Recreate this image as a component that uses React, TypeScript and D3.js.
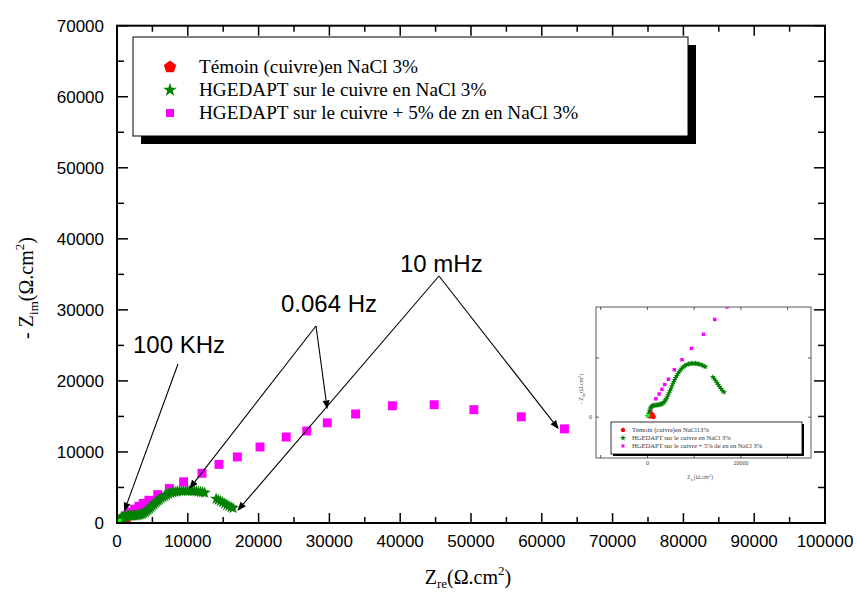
import React from 'react';
import * as d3 from 'd3';

type P = [number, number];

// Series (Zre, -Zim) in ohm.cm2
const temoin: P[] = [[600, 60], [800, 150], [1000, 250], [1150, 120], [1300, 20]];
const hgedapt: P[] = [
  [100, 100], [250, 300], [400, 500], [550, 650], [700, 780], [850, 870], [1000, 930], [1200, 970],
  [1400, 990], [1600, 1000], [1800, 1010], [2000, 1020], [2200, 1030], [2400, 1040], [2600, 1060],
  [2800, 1080], [3000, 1110], [3200, 1150], [3400, 1210], [3600, 1290], [3800, 1400], [4000, 1530],
  [4200, 1680], [4400, 1850], [4600, 2030], [4800, 2220], [5000, 2410], [5200, 2600], [5400, 2790],
  [5600, 2970], [5800, 3140], [6000, 3300], [6250, 3480], [6500, 3650], [6750, 3800], [7000, 3940],
  [7300, 4080], [7600, 4200], [7900, 4300], [8200, 4380], [8500, 4440], [8800, 4480], [9100, 4510],
  [9400, 4530], [9700, 4540], [10000, 4540], [10300, 4530], [10600, 4510], [10900, 4490], [11200, 4460],
  [11500, 4420], [11800, 4370], [12100, 4310], [12400, 4250],
  [14000, 3400], [14300, 3250], [14600, 3080], [14900, 2900], [15200, 2720], [15500, 2540],
  [15800, 2370], [16100, 2220], [16400, 2100],
];
const hgedaptZn: P[] = [
  [700, 500], [1200, 1000], [1800, 1550], [2500, 1950], [3100, 2350], [3700, 2750], [4500, 3200],
  [5750, 4000], [7400, 4850], [9400, 5800], [12000, 7000], [14400, 8250], [17000, 9300], [20200, 10700],
  [23900, 12100], [26800, 12950], [29700, 14100], [33700, 15350], [38900, 16500], [44800, 16650],
  [50400, 15950], [57100, 14950], [63200, 13250],
];
const limeMain: P[] = [[200, 150]];
const limeInset: P[] = [[200, 150], [16900, 9400]];

const xTickLabels = [0, 10000, 20000, 30000, 40000, 50000, 60000, 70000, 80000, 90000, 100000];
const yTickLabels = [0, 10000, 20000, 30000, 40000, 50000, 60000, 70000];
const insetXTicks = [-10000, 0, 10000, 20000, 30000];
const insetXLabels = [0, 20000];
const insetYTicks = [0, 5000];
const insetYLabels = [0];

const legendLabels = [
  'Témoin (cuivre)en NaCl 3%',
  'HGEDAPT sur le cuivre en NaCl 3%',
  'HGEDAPT sur le cuivre + 5% de zn en NaCl 3%',
];
const insetLegendLabels = [
  'Témoin (cuivre)en NaCl13%',
  'HGEDAPT sur le cuivre en NaCl 3%',
  'HGEDAPT sur le cuivre + 5% de zn en NaCl 3%',
];
const annotationLabels = ['100 KHz', '0.064 Hz', '10 mHz'];

const RED = '#ff0000';
const GREEN = '#008000';
const MAGENTA = '#ff00ff';
const LIME = '#00ff00';
const SANS = 'Liberation Sans, Arial, sans-serif';
const SERIF = 'Liberation Serif, Times New Roman, serif';

function pentagon(r: number): string {
  const pts = d3.range(5).map((i) => {
    const a = -Math.PI / 2 + (i * 2 * Math.PI) / 5;
    return [r * Math.cos(a), r * Math.sin(a)];
  });
  return 'M' + pts.map((p) => p.join(',')).join('L') + 'Z';
}

const starPath = (size: number) => d3.symbol(d3.symbolStar, size)() as string;
const squarePath = (size: number) => d3.symbol(d3.symbolSquare, size)() as string;

function Arrow({ x1, y1, x2, y2 }: { x1: number; y1: number; x2: number; y2: number }) {
  const ang = Math.atan2(y2 - y1, x2 - x1);
  const L = 9, W = 3.5;
  const bx = x2 - L * Math.cos(ang), by = y2 - L * Math.sin(ang);
  const px = -Math.sin(ang) * W, py = Math.cos(ang) * W;
  return (
    <g>
      <line x1={x1} y1={y1} x2={bx} y2={by} stroke="#000" strokeWidth={1.1} />
      <path d={`M${x2},${y2}L${bx + px},${by + py}L${bx - px},${by - py}Z`} fill="#000" />
    </g>
  );
}

export default function App() {
  const x = d3.scaleLinear().domain([0, 100000]).range([117, 825]);
  const y = d3.scaleLinear().domain([0, 70000]).range([523, 25.7]);
  const minorX = d3.range(0, 100001, 5000);
  const minorY = d3.range(0, 70001, 5000);

  const ix = d3.scaleLinear().domain([-11000, 35000]).range([596, 811]);
  const iy = d3.scaleLinear().domain([-3450, 9300]).range([458, 307]);

  const [L, R] = x.range();
  const [B, T] = y.range();

  const star = starPath(46);
  const sq = squarePath(80);
  const pent = pentagon(5);
  const iStar = starPath(11);
  const iSq = squarePath(12);
  const iPent = pentagon(2.6);

  return (
    <svg width={858} height={595} style={{ position: 'absolute', left: 0, top: 0, background: '#fff' }}>
      <rect x={0} y={0} width={858} height={595} fill="#fff" />
      <defs>
        <clipPath id="mainClip">
          <rect x={L} y={T} width={R - L} height={B - T} />
        </clipPath>
        <clipPath id="insetClip">
          <rect x={596} y={307} width={215} height={151} />
        </clipPath>
      </defs>

      {/* Legend (main) */}
      <rect x={141} y={45} width={555} height={99} fill="#000" />
      <rect x={133} y={37} width={555} height={99} fill="#fff" stroke="#000" strokeWidth={1} />
      <path d={pentagon(6.5)} transform="translate(170,67)" fill={RED} />
      <path d={starPath(60)} transform="translate(170,90)" fill={GREEN} />
      <path d={squarePath(64)} transform="translate(170,113)" fill={MAGENTA} />
      {legendLabels.map((t, i) => (
        <text key={t} x={199} y={73 + i * 23} fontFamily={SERIF} fontSize={19.2} fill="#000">{t}</text>
      ))}

      {/* Data main */}
      <g clipPath="url(#mainClip)">
        {hgedaptZn.map((d, i) => (
          <path key={'m' + i} d={sq} transform={`translate(${x(d[0])},${y(d[1])})`} fill={MAGENTA} />
        ))}
        {temoin.map((d, i) => (
          <path key={'r' + i} d={pent} transform={`translate(${x(d[0])},${y(d[1])})`} fill={RED} />
        ))}
        {hgedapt.map((d, i) => (
          <path key={'g' + i} d={star} transform={`translate(${x(d[0])},${y(d[1])})`} fill={GREEN} />
        ))}
        {limeMain.map((d, i) => (
          <path key={'l' + i} d={squarePath(40)} transform={`translate(${x(d[0])},${y(d[1])})`} fill={LIME} />
        ))}
      </g>

      {/* Inset */}
      <g>
        <rect x={596} y={307} width={215} height={151} fill="#fff" stroke="#333" strokeWidth={0.8} />
        {insetXTicks.map((v) => (
          <g key={'ixt' + v}>
            <line x1={ix(v)} x2={ix(v)} y1={458} y2={455} stroke="#333" strokeWidth={0.8} />
            <line x1={ix(v)} x2={ix(v)} y1={307} y2={310} stroke="#333" strokeWidth={0.8} />
          </g>
        ))}
        {insetYTicks.map((v) => (
          <g key={'iyt' + v}>
            <line x1={596} x2={599} y1={iy(v)} y2={iy(v)} stroke="#333" strokeWidth={0.8} />
            <line x1={811} x2={808} y1={iy(v)} y2={iy(v)} stroke="#333" strokeWidth={0.8} />
          </g>
        ))}
        {insetXLabels.map((v) => (
          <text key={'ixl' + v} x={ix(v)} y={465} textAnchor="middle" fontFamily={SERIF} fontSize={6} fill="#444">{v}</text>
        ))}
        {insetYLabels.map((v) => (
          <text key={'iyl' + v} x={592} y={iy(v) + 2} textAnchor="end" fontFamily={SERIF} fontSize={6} fill="#444">{v}</text>
        ))}
        <text transform="translate(583,389) rotate(-90)" textAnchor="middle" fontFamily={SERIF} fontSize={6} fill="#555">
          - Z<tspan fontSize={4} dy={1.5}>im</tspan><tspan dy={-1.5}>(Ω.cm</tspan><tspan fontSize={4} dy={-2}>2</tspan><tspan dy={2}>)</tspan>
        </text>
        <text x={700} y={479} textAnchor="middle" fontFamily={SERIF} fontSize={6} fill="#555">
          Z<tspan fontSize={4} dy={1.5}>re</tspan><tspan dy={-1.5}>(Ω.cm</tspan><tspan fontSize={4} dy={-2}>2</tspan><tspan dy={2}>)</tspan>
        </text>
        <g clipPath="url(#insetClip)">
          {hgedaptZn.map((d, i) => (
            <path key={'im' + i} d={iSq} transform={`translate(${ix(d[0])},${iy(d[1])})`} fill={MAGENTA} />
          ))}
          {hgedapt.map((d, i) => (
            <path key={'ig' + i} d={iStar} transform={`translate(${ix(d[0])},${iy(d[1])})`} fill={GREEN} />
          ))}
          {temoin.map((d, i) => (
            <path key={'ir' + i} d={iPent} transform={`translate(${ix(d[0])},${iy(d[1])})`} fill={RED} />
          ))}
          {limeInset.map((d, i) => (
            <path key={'il' + i} d={iSq} transform={`translate(${ix(d[0])},${iy(d[1])})`} fill={LIME} />
          ))}
        </g>
        {/* inset legend */}
        <rect x={613} y={424} width={191} height={32} fill="#000" />
        <rect x={611} y={422} width={191} height={32} fill="#fff" stroke="#000" strokeWidth={0.8} />
        <path d={pentagon(2.5)} transform="translate(623,430)" fill={RED} />
        <path d={starPath(12)} transform="translate(623,438)" fill={GREEN} />
        <path d={squarePath(9)} transform="translate(623,446)" fill={MAGENTA} />
        {insetLegendLabels.map((t, i) => (
          <text key={'il' + i} x={632} y={432 + i * 8} fontFamily={SERIF} fontSize={6.6} fill="#333">{t}</text>
        ))}
      </g>

      {/* Axes frame and ticks */}
      <rect x={L} y={T} width={R - L} height={B - T} fill="none" stroke="#000" strokeWidth={2} />
      {minorX.map((v) => {
        const len = v % 10000 === 0 ? 10 : 6;
        return (
          <g key={'xt' + v}>
            <line x1={x(v)} x2={x(v)} y1={B} y2={B - len} stroke="#000" strokeWidth={1.5} />
            <line x1={x(v)} x2={x(v)} y1={T} y2={T + len} stroke="#000" strokeWidth={1.5} />
          </g>
        );
      })}
      {minorY.map((v) => {
        const len = v % 10000 === 0 ? 11 : 7;
        return (
          <g key={'yt' + v}>
            <line x1={L} x2={L + len} y1={y(v)} y2={y(v)} stroke="#000" strokeWidth={1.5} />
            <line x1={R} x2={R - len} y1={y(v)} y2={y(v)} stroke="#000" strokeWidth={1.5} />
          </g>
        );
      })}
      {xTickLabels.map((v) => (
        <text key={'xl' + v} x={x(v)} y={547} textAnchor="middle" fontFamily={SANS} fontSize={17} fill="#000">{v}</text>
      ))}
      {yTickLabels.map((v) => (
        <text key={'yl' + v} x={104} y={y(v) + 6} textAnchor="end" fontFamily={SANS} fontSize={17} fill="#000">{v}</text>
      ))}

      {/* Axis titles */}
      <text transform="translate(33,288) rotate(-90)" textAnchor="middle" fontFamily={SERIF} fontSize={20} fill="#000">
        - Z<tspan fontSize={13} dy={5}>im</tspan><tspan dy={-5}>(Ω.cm</tspan><tspan fontSize={13} dy={-9}>2</tspan><tspan dy={9}>)</tspan>
      </text>
      <text x={468} y={584} textAnchor="middle" fontFamily={SERIF} fontSize={20} fill="#000">
        Z<tspan fontSize={13} dy={4}>re</tspan><tspan dy={-4}>(Ω.cm</tspan><tspan fontSize={13} dy={-9}>2</tspan><tspan dy={9}>)</tspan>
      </text>

      {/* Annotations */}
      <text x={133} y={353} fontFamily={SANS} fontSize={24} fill="#000">{annotationLabels[0]}</text>
      <text x={281} y={312} fontFamily={SANS} fontSize={24} fill="#000">{annotationLabels[1]}</text>
      <text x={400} y={272} fontFamily={SANS} fontSize={24} fill="#000">{annotationLabels[2]}</text>
      <Arrow x1={178} y1={364} x2={x(1000)} y2={y(1600)} />
      <Arrow x1={316} y1={326} x2={x(10200)} y2={y(4800)} />
      <Arrow x1={316} y1={326} x2={x(29700)} y2={y(16000)} />
      <Arrow x1={439} y1={276} x2={x(17000)} y2={y(1700)} />
      <Arrow x1={439} y1={276} x2={x(62400)} y2={y(13200)} />
    </svg>
  );
}
